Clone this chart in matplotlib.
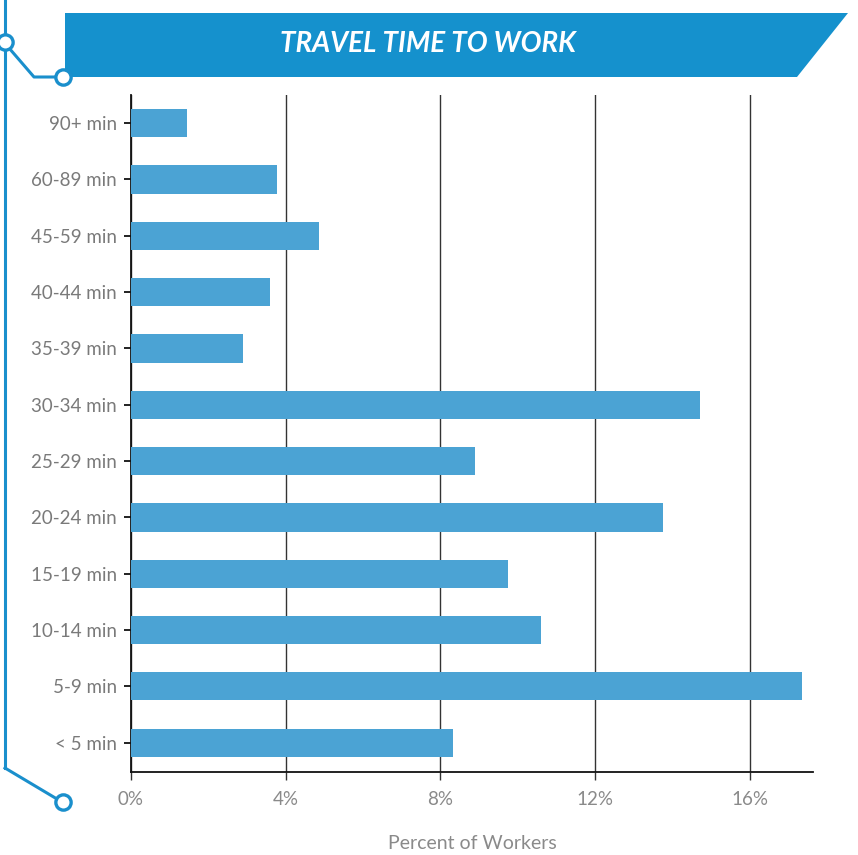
import matplotlib
matplotlib.use("Agg")
import matplotlib.pyplot as plt
from matplotlib.patches import Polygon
from matplotlib.lines import Line2D
import numpy as np

categories = ["< 5 min", "5-9 min", "10-14 min", "15-19 min", "20-24 min", "25-29 min",
              "30-34 min", "35-39 min", "40-44 min", "45-59 min", "60-89 min", "90+ min"]
values = [8.32, 17.34, 10.6, 9.74, 13.75, 8.9, 14.7, 2.9, 3.6, 4.86, 3.77, 1.45]
xticks = [0, 4, 8, 12, 16]
xticklabels = ["0%", "4%", "8%", "12%", "16%"]
title = "TRAVEL TIME TO WORK"
xlabel = "Percent of Workers"

plt.rcParams["font.family"] = ["Lato", "DejaVu Sans"]

W, H = 858, 855
fig = plt.figure(figsize=(W / 100, H / 100), dpi=100)

def fx(x):
    return x / W

def fy(y):
    return 1 - y / H

ax_left, ax_right, ax_top, ax_bot = 131, 813, 95, 772
ax = fig.add_axes([fx(ax_left), fy(ax_bot), (ax_right - ax_left) / W, (ax_bot - ax_top) / H])

bar_color = "#4ba3d4"
ypos = np.arange(len(categories))
ax.barh(ypos, values, height=0.5, color=bar_color, zorder=3)
ax.set_xlim(0, 17.63)
ax.set_ylim(-0.52, 11.5)
ax.set_yticks(ypos)
ax.set_yticklabels(categories)
ax.set_xticks(xticks)
ax.set_xticklabels(xticklabels)
ax.grid(axis="x", color="#333333", linewidth=1.0, zorder=0)
ax.grid(axis="y", visible=False)
for s in ["top", "right"]:
    ax.spines[s].set_visible(False)
for s in ["left", "bottom"]:
    ax.spines[s].set_color("#111111")
    ax.spines[s].set_linewidth(1.3)
ax.tick_params(axis="y", length=5, width=1.3, color="#111111", labelcolor="#7a7a7a",
               labelsize=13.5, pad=5)
ax.tick_params(axis="x", length=6, width=1.0, color="#333333", labelcolor="#8a8a8a",
               labelsize=13.5, pad=8)
ax.set_xlabel(xlabel, color="#8a8a8a", fontsize=14, labelpad=19)

# Header banner
banner_color = "#1591cd"
banner = Polygon([(fx(65), fy(13)), (fx(848), fy(13)), (fx(797), fy(77)), (fx(65), fy(77))],
                 closed=True, transform=fig.transFigure, facecolor=banner_color,
                 edgecolor="none")
fig.add_artist(banner)
fig.text(fx(428), fy(44), title, transform=fig.transFigure, color="white",
         fontsize=20, fontweight="bold", fontstyle="italic", ha="center", va="center")

# Left decorations
deco = "#1a8fcc"
fig.add_artist(Line2D([fx(5), fx(5)], [fy(0), fy(768)], transform=fig.transFigure,
                      color=deco, linewidth=2.2))
fig.add_artist(Line2D([fx(9), fx(34), fx(57)], [fy(48), fy(77), fy(77)],
                      transform=fig.transFigure, color=deco, linewidth=2.2))
fig.add_artist(Line2D([fx(5), fx(57)], [fy(768), fy(799)],
                      transform=fig.transFigure, color=deco, linewidth=2.2))
for (cx, cy) in [(5, 42), (63, 77), (63, 802)]:
    fig.add_artist(Line2D([fx(cx)], [fy(cy)], transform=fig.transFigure, marker="o",
                          markersize=11, markerfacecolor="white", markeredgecolor=deco,
                          markeredgewidth=2.4, linestyle="none"))

fig.savefig("out.png", dpi=100)
